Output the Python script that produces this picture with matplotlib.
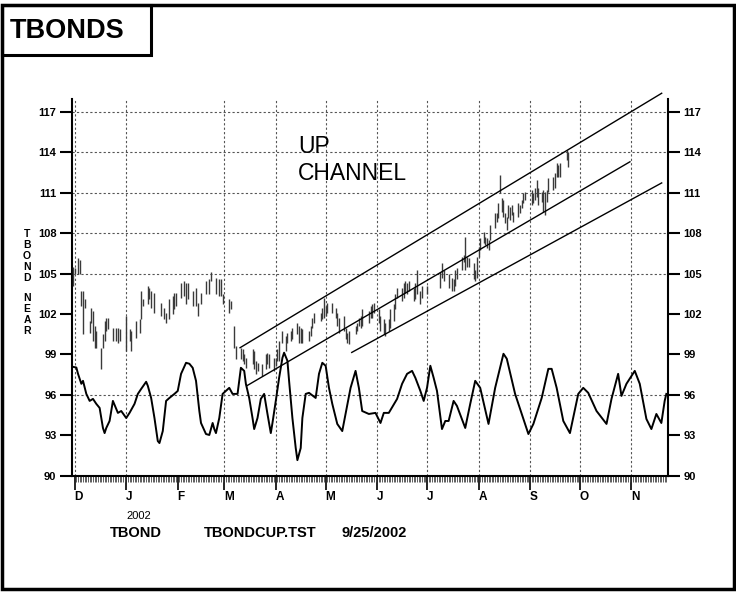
import numpy as np
import matplotlib
matplotlib.use("Agg")
import matplotlib.pyplot as plt
from matplotlib.patches import Rectangle
import pandas as pd

plt.rcParams['font.family'] = ['Liberation Sans', 'DejaVu Sans']

# ---------------- data ----------------
start_date = pd.Timestamp('2001-12-01')
month_labels = ['D', 'J', 'F', 'M', 'A', 'M', 'J', 'J', 'A', 'S', 'O', 'N']
month_starts = pd.date_range('2001-12-01', periods=12, freq='MS')

y_ticks = [90, 93, 96, 99, 102, 105, 108, 111, 114, 117]
y_grid = [96, 105, 108, 111, 114, 117]

# oscillator (day offset from 2001-12-01, value)
osc_day = [-1, 1, 2, 4, 5, 7, 9, 11, 13, 15, 17, 18, 19, 21, 23, 26, 28, 31, 33, 36,
           38, 40, 43, 44, 46, 48, 50, 51, 53, 55, 57, 60, 62, 64, 67, 69, 71, 73, 75, 76,
           79, 81, 83, 84, 85, 87, 89, 91, 93, 95, 98, 100, 102, 103, 105, 107, 108, 110, 112, 114,
           116, 118, 119, 121, 123, 125, 126, 128, 129, 131, 133, 134, 136, 137, 139, 141, 145, 147, 149, 151,
           153, 155, 158, 161, 163, 166, 169, 171, 173, 177, 181, 184, 186, 189, 194, 197, 200, 203, 205, 208,
           210, 212, 214, 216, 218, 221, 223, 225, 228, 230, 235, 238, 241, 244, 249, 253, 258, 260, 265, 269,
           273, 276, 281, 285, 287, 290, 294, 298, 303, 306, 309, 314, 320, 323, 327, 329, 332, 337, 340, 344,
           347, 350, 353, 355, 356]
osc_val = [98.07, 98.02, 97.55, 96.81, 97.03, 96.06, 95.54, 95.69, 95.32, 95.02, 93.53, 93.15, 93.53, 94.05, 95.54, 94.65, 94.79, 94.27, 94.65, 95.32,
           96.06, 96.43, 96.96, 96.66, 95.76, 94.27, 92.56, 92.41, 93.30, 95.54, 95.76, 96.06, 96.28, 97.55, 98.37, 98.30, 98.00, 97.03, 94.79, 93.90,
           93.08, 93.01, 93.90, 93.45, 93.15, 94.27, 96.06, 96.28, 96.51, 96.06, 96.06, 98.00, 97.77, 96.81, 95.76, 94.27, 93.45, 94.27, 95.69, 96.06,
           94.57, 93.15, 93.90, 95.54, 97.25, 98.74, 99.12, 98.52, 97.03, 94.27, 92.04, 91.14, 92.04, 94.27, 96.06, 96.14, 95.76, 97.55, 98.37, 98.15,
           96.51, 95.32, 93.83, 93.30, 94.57, 96.51, 97.77, 96.51, 94.79, 94.57, 94.65, 93.90, 94.65, 94.65, 95.69, 96.81, 97.55, 97.77, 97.25, 96.28,
           95.54, 96.51, 98.15, 97.25, 96.28, 93.45, 94.05, 94.05, 95.54, 95.17, 93.53, 95.32, 97.03, 96.51, 93.83, 96.51, 99.04, 98.67, 96.06, 94.57,
           93.08, 93.83, 95.76, 97.92, 97.92, 96.51, 94.05, 93.15, 96.06, 96.51, 96.14, 94.79, 93.83, 95.69, 97.55, 95.91, 96.81, 97.77, 96.81, 94.20,
           93.45, 94.57, 93.90, 95.54, 96.06]

# price bars (day offset, high, low)
bar_day = [-1, 0, 2, 3, 4, 5, 6, 9, 10, 11, 12, 13, 16, 17, 18, 19, 20, 23, 25, 26,
           27, 31, 33, 34, 37, 39, 40, 41, 44, 45, 46, 48, 52, 54, 55, 57, 59, 60, 61, 64,
           66, 67, 68, 71, 73, 74, 76, 79, 81, 82, 85, 87, 88, 89, 93, 94, 96, 97, 100, 101,
           102, 103, 107, 108, 109, 110, 113, 115, 116, 117, 120, 121, 122, 123, 125, 127, 128, 130, 131, 134,
           135, 136, 137, 141, 142, 143, 144, 148, 149, 150, 151, 152, 155, 157, 158, 159, 162, 163, 164, 165,
           169, 170, 171, 172, 173, 177, 178, 179, 180, 183, 184, 186, 187, 189, 190, 192, 193, 194, 197, 198,
           199, 200, 201, 204, 205, 206, 208, 209, 212, 220, 221, 222, 225, 227, 228, 229, 230, 233, 234, 235,
           236, 237, 240, 241, 242, 243, 244, 246, 247, 248, 249, 250, 253, 254, 255, 256, 257, 258, 259, 260,
           261, 262, 263, 264, 267, 268, 269, 270, 271, 275, 276, 277, 278, 279, 281, 282, 283, 284, 285, 288,
           289, 290, 291, 292, 296, 297]
bar_high = [105.45, 105.38, 106.12, 105.97, 103.74, 103.74, 103.14, 101.50, 102.47, 102.25, 101.13, 100.75, 99.49, 100.53, 101.50, 101.72, 101.72, 100.98, 100.98, 100.98,
            100.90, 101.87, 100.90, 100.75, 101.50, 101.65, 103.74, 103.14, 104.11, 103.96, 103.74, 103.59, 102.84, 102.47, 102.10, 103.14, 103.36, 103.59, 103.59, 104.26,
            104.48, 104.26, 104.33, 103.74, 103.89, 102.84, 103.59, 104.48, 104.56, 105.08, 104.70, 104.63, 104.63, 103.51, 103.14, 102.99, 101.13, 99.64, 99.49, 99.41,
            99.04, 98.74, 99.41, 99.27, 98.52, 98.37, 98.30, 99.04, 99.12, 99.04, 98.74, 98.74, 99.41, 100.01, 100.75, 100.38, 100.60, 100.75, 100.98, 101.35,
            101.13, 100.98, 100.90, 100.75, 101.13, 101.72, 102.10, 102.10, 102.47, 103.21, 102.62, 102.84, 102.84, 102.47, 102.10, 101.72, 101.87, 100.98, 100.60, 100.75,
            101.13, 101.35, 101.72, 101.87, 102.39, 102.25, 102.62, 102.77, 102.84, 102.39, 101.87, 101.65, 101.35, 101.65, 102.39, 102.77, 103.51, 103.96, 103.96, 104.26,
            104.48, 104.33, 104.48, 103.96, 104.26, 105.23, 103.74, 104.11, 104.11, 105.08, 105.75, 105.23, 105.00, 104.70, 104.63, 105.23, 105.38, 106.20, 106.34, 107.69,
            106.20, 106.12, 105.75, 105.23, 106.20, 106.94, 107.61, 108.06, 107.69, 107.61, 107.46, 108.58, 109.47, 109.47, 110.22, 112.31, 110.59, 110.44, 109.47, 109.18,
            110.07, 109.92, 110.07, 109.55, 110.22, 110.07, 110.44, 110.96, 111.04, 111.19, 110.96, 111.34, 111.93, 111.34, 111.04, 111.19, 111.04, 111.19, 112.08, 112.16,
            112.45, 113.20, 113.05, 113.20, 114.17, 114.02]
bar_low = [104.11, 105.00, 105.00, 105.00, 102.62, 100.53, 102.47, 100.60, 101.35, 100.01, 99.49, 99.49, 97.92, 99.49, 100.01, 100.75, 100.90, 100.01, 100.01, 99.86,
           100.01, 99.27, 100.01, 99.27, 100.23, 100.60, 101.65, 102.62, 102.77, 103.14, 102.47, 102.10, 101.87, 101.65, 101.35, 101.65, 102.02, 102.39, 102.62, 103.21,
           103.36, 102.77, 103.14, 102.62, 102.62, 101.87, 102.77, 103.51, 103.51, 104.48, 103.51, 103.36, 103.36, 102.77, 102.10, 102.39, 99.49, 98.67, 98.67, 98.52,
           98.30, 98.00, 98.30, 97.92, 97.55, 97.77, 97.40, 97.92, 98.30, 98.00, 97.77, 98.15, 98.52, 98.52, 99.86, 99.27, 99.86, 100.01, 100.16, 100.53,
           99.86, 99.86, 99.86, 100.01, 100.38, 100.98, 101.35, 101.50, 101.65, 101.72, 101.87, 102.10, 102.10, 101.72, 101.13, 100.60, 100.75, 100.16, 99.86, 99.78,
           100.53, 100.75, 101.13, 100.98, 101.13, 101.35, 101.72, 101.72, 102.10, 101.35, 100.75, 100.53, 100.38, 100.75, 100.98, 101.50, 102.39, 103.21, 102.99, 103.21,
           103.59, 103.51, 103.74, 102.99, 103.14, 103.51, 102.77, 103.21, 103.51, 103.96, 104.70, 104.48, 103.96, 103.74, 103.74, 104.11, 104.63, 105.23, 105.82, 105.23,
           105.45, 105.45, 104.63, 104.48, 104.70, 106.20, 106.72, 107.24, 107.09, 106.87, 106.72, 107.46, 108.36, 108.80, 109.10, 110.96, 109.55, 109.18, 108.73, 108.21,
           109.10, 108.95, 109.32, 108.80, 109.18, 109.47, 109.85, 110.22, 110.44, 110.07, 110.22, 110.44, 110.67, 110.07, 110.29, 109.55, 109.32, 110.29, 111.04, 111.19,
           111.34, 112.16, 112.16, 112.16, 113.42, 112.90]

# channel lines: (start day, start value, end day, end value)
chan_upper = [99.5, 99.49, 353.2, 118.39]
chan_middle = [103.5, 96.66, 334.1, 113.30]
chan_lower = [166.7, 99.14, 353.2, 111.73]

# ---------------- figure ----------------
W, H = 736, 592
fig = plt.figure(figsize=(W / 100, H / 100), dpi=100)
fig.patch.set_facecolor('white')

def fx(px):
    return px / W

def fy(py):
    return 1 - py / H

ax_left, ax_right, ax_top, ax_bot = 71.7, 668, 98.5, 475.5
ax = fig.add_axes([fx(ax_left), fy(ax_bot), (ax_right - ax_left) / W, (ax_bot - ax_top) / H])
ax.set_xlim(-1.8, 357.0)
ax.set_ylim(90, 118.0)

month_pos = [(d - start_date).days for d in month_starts]

# grid (no line at February in the original)
for lab, pos in zip(month_labels, month_pos):
    if lab == 'F':
        continue
    ax.axvline(pos, color='#555555', lw=0.8, ls=(0, (2, 2)), zorder=1)
for gy in y_grid:
    ax.axhline(gy, color='#555555', lw=0.8, ls=(0, (2, 2)), zorder=1)

# oscillator
ax.plot(osc_day, osc_val, color='black', lw=1.4, zorder=3)

# price bars
ax.vlines(bar_day, bar_low, bar_high, color='#3a3a3a', lw=1.0, zorder=3)

# channel lines
for c in (chan_upper, chan_middle, chan_lower):
    ax.plot([c[0], c[2]], [c[1], c[3]], color='black', lw=1.0, clip_on=False, zorder=4)

# axes styling
ax.spines['top'].set_visible(False)
for s in ('left', 'right', 'bottom'):
    ax.spines[s].set_linewidth(1.5)
    ax.spines[s].set_color('black')

ax.set_yticks(y_ticks)
ax.set_yticklabels([str(v) for v in y_ticks])
ax.tick_params(axis='y', which='major', left=True, right=True, labelleft=True, labelright=True,
               direction='out', length=8.5, width=1.5, pad=2.5, labelsize=8)
for t in ax.yaxis.get_major_ticks():
    t.label1.set_fontweight('bold')
    t.label2.set_fontweight('bold')

ax.set_xticks(month_pos)
ax.set_xticklabels(month_labels)
ax.set_xticks(np.arange(0, 357, 1), minor=True)
ax.tick_params(axis='x', which='major', direction='out', length=10, width=1.2, pad=1.5,
               labelsize=8.5)
ax.tick_params(axis='x', which='minor', direction='out', length=4.5, width=0.6, color='#444444')
for lbl in ax.get_xticklabels():
    lbl.set_horizontalalignment('left')
    lbl.set_fontweight('bold')

# ---------------- texts & frames ----------------
fig.patches.append(Rectangle((fx(2), fy(589)), 732 / W, 584 / H, transform=fig.transFigure,
                             fill=False, lw=2.5, ec='black'))
fig.patches.append(Rectangle((fx(2), fy(55)), 149 / W, 50 / H, transform=fig.transFigure,
                             fill=False, lw=2.2, ec='black'))
fig.text(fx(10), fy(38.5), 'TBONDS', fontsize=19.5, fontweight='bold', va='baseline', ha='left')

fig.text(fx(298), fy(153), 'UP', fontsize=16.5, va='baseline', ha='left')
fig.text(fx(298), fy(180), 'CHANNEL', fontsize=16.5, va='baseline', ha='left')

ylab_letters = ['T', 'B', 'O', 'N', 'D', 'N', 'E', 'A', 'R']
ylab_y = [234, 245, 256, 267, 278, 298, 309, 320, 331]
for ch, yy in zip(ylab_letters, ylab_y):
    fig.text(fx(27), fy(yy), ch, fontsize=7.5, fontweight='bold', ha='center', va='center')

fig.text(fx(139), fy(516), '2002', fontsize=8, ha='center', va='center')
fig.text(fx(110), fy(537), 'TBOND', fontsize=10.5, fontweight='bold', ha='left', va='baseline')
fig.text(fx(204), fy(537), 'TBONDCUP.TST', fontsize=10.5, fontweight='bold', ha='left', va='baseline')
fig.text(fx(342), fy(537), '9/25/2002', fontsize=10.5, fontweight='bold', ha='left', va='baseline')

fig.savefig('out.png', dpi=100, facecolor='white')
